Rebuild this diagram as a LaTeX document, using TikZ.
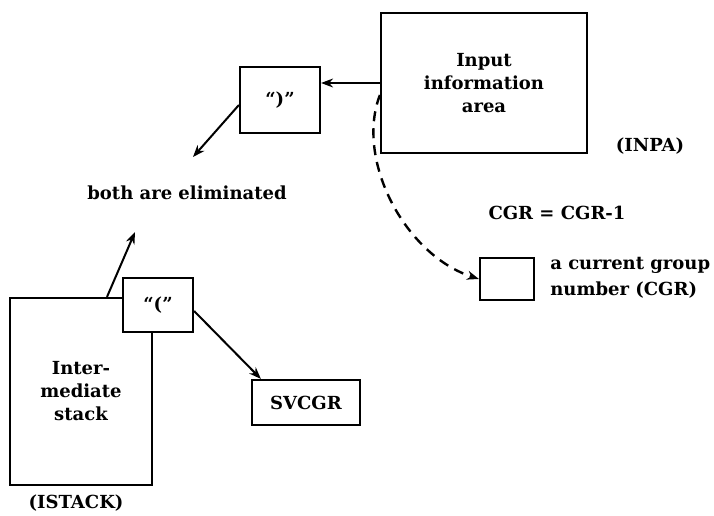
\documentclass[tikz,border=0pt]{standalone}
\usepackage{xcolor}
\usepackage{fontspec}
\setmainfont{DejaVu Serif}
\usetikzlibrary{arrows.meta}

\tikzset{
  box/.style={draw,line width=2.2pt,fill=white,inner sep=0pt,align=center,
    font=\fontsize{18}{23}\selectfont\bfseries},
  lbl/.style={align=center,font=\fontsize{18}{23}\selectfont\bfseries},
}

\begin{document}
\begin{tikzpicture}[x=1pt,y=-1pt,>={Stealth[length=12pt,width=9pt]},line width=2pt]
\useasboundingbox[fill=white] (0,0) rectangle (714,516);
% input area and the closing bracket
\node[box,minimum width=206pt,minimum height=140pt] (inpa) at (484,83) {Input\\information\\area};
\node[lbl] (inpalbl) at (650,146) {(INPA)};
\node[box,minimum width=80pt,minimum height=66pt] (close) at (280,100) {``)''};
\draw[->,line width=1.6pt] (inpa.west) -- (close.east |- inpa.west);
\node[lbl] (elim) at (187,193) {both are eliminated};
\coordinate (elimtop) at (193,157);
\coordinate (elimbot) at (135,232);
\draw[->] ([yshift=-5pt]close.west) -- (elimtop);
% stack and the opening bracket
\node[box,minimum width=142pt,minimum height=187pt] (stack) at (81,391.5) {Inter-\\mediate\\stack};
\node[lbl] (stacklbl) at (76,503) {(ISTACK)};
\node[box,minimum width=70pt,minimum height=54pt] (open) at (158,305) {``(''};
\draw[->] ([xshift=26pt]stack.north) -- (elimbot);
\node[box,minimum width=108pt,minimum height=45pt] (svcgr) at (306,402.5) {SVCGR};
\draw[->] ([yshift=-6pt]open.east) -- ([xshift=10pt]svcgr.north west);
% current group number
\node[lbl] (cgreq) at (557,213) {CGR = CGR-1};
\node[box,minimum width=54pt,minimum height=42pt] (cgr) at (507,279) {};
\node[lbl,anchor=west,align=left,font=\fontsize{18}{26}\selectfont\bfseries] (cgrlbl) at (546,278) {a current group\\number (CGR)};
\draw[->,line width=2.4pt,dash pattern=on 10pt off 7pt] ([yshift=-12pt]inpa.west) .. controls (355,160) and (405,255) .. (cgr.west);
\end{tikzpicture}
\end{document}
